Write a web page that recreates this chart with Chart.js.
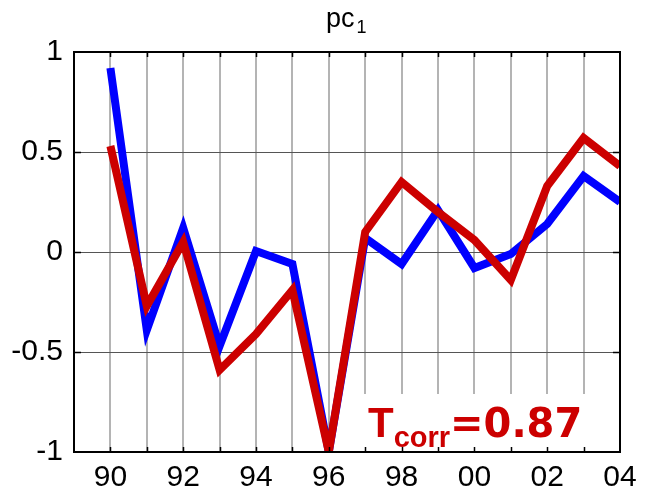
<!DOCTYPE html>
<html>
<head>
<meta charset="utf-8">
<title>pc1</title>
<script src="https://cdn.jsdelivr.net/npm/chart.js@4.4.1/dist/chart.umd.min.js"></script>
<style>
  html, body { margin: 0; padding: 0; background: #fff; }
  #wrap { width: 645px; height: 499px; }
</style>
</head>
<body>
<div id="wrap"><canvas id="c" width="645" height="499"></canvas></div>
<script>
// Years on the horizontal axis
const years = [1990, 1991, 1992, 1993, 1994, 1995, 1996, 1997, 1998, 1999, 2000, 2001, 2002, 2003, 2004];
// Principal component 1 (blue) and its reconstruction (red)
const bluePc = [0.92, -0.39, 0.12, -0.47, 0.005, -0.06, -1.0, 0.07, -0.06, 0.21, -0.08, -0.01, 0.14, 0.38, 0.25];
const redPc = [0.53, -0.27, 0.05, -0.59, -0.41, -0.19, -1.0, 0.10, 0.35, 0.20, 0.06, -0.14, 0.33, 0.57, 0.43];
const yTickValues = [-1, -0.5, 0, 0.5, 1];
const corrValue = '0.87';

const toPoints = arr => arr.map((v, i) => ({ x: years[i], y: v }));
const FONT = '"Liberation Sans", Arial, sans-serif';
const WIDE_BOLD = '"DejaVu Sans", sans-serif';

// Frame, inner tick marks, title and correlation label
const decorations = {
  id: 'decorations',
  beforeDatasetsDraw(chart) {
    const { ctx, scales: { x, y } } = chart;
    // white panel behind the correlation label
    ctx.save();
    ctx.fillStyle = '#ffffff';
    const x0 = x.getPixelForValue(1996.5), x1 = x.getPixelForValue(2003.4);
    const y0 = y.getPixelForValue(-0.71), y1 = y.getPixelForValue(-1);
    ctx.fillRect(x0, y0, x1 - x0, y1 - y0);
    ctx.restore();
  },
  afterDraw(chart) {
    const { ctx, chartArea: a, scales: { x, y } } = chart;
    ctx.save();
    // inner tick marks
    ctx.strokeStyle = '#000';
    ctx.lineWidth = 1.5;
    ctx.beginPath();
    for (let yr = 1990; yr < 2004; yr++) {
      const px = Math.round(x.getPixelForValue(yr)) + 0.5;
      ctx.moveTo(px, a.top); ctx.lineTo(px, a.top + 5);
      ctx.moveTo(px, a.bottom); ctx.lineTo(px, a.bottom - 5);
    }
    [-0.5, 0, 0.5].forEach(v => {
      const py = Math.round(y.getPixelForValue(v)) + 0.5;
      ctx.moveTo(a.right, py); ctx.lineTo(a.right - 7, py);
      ctx.moveTo(a.left, py); ctx.lineTo(a.left + 7, py);
    });
    ctx.stroke();
    // frame
    ctx.lineWidth = 2;
    ctx.strokeRect(a.left, a.top, a.right - a.left, a.bottom - a.top);

    // title pc with subscript 1
    ctx.fillStyle = '#000';
    ctx.textBaseline = 'alphabetic';
    ctx.textAlign = 'left';
    ctx.font = '27px ' + FONT;
    const tx = 326;
    ctx.fillText('pc', tx, 27);
    const w = ctx.measureText('pc').width;
    ctx.font = '18px ' + FONT;
    ctx.fillText('1', tx + w + 2, 33);

    // correlation label
    ctx.fillStyle = '#cc0000';
    ctx.font = 'bold 42px ' + FONT;
    let cx = 368;
    ctx.fillText('T', cx, 437);
    cx += ctx.measureText('T').width;
    ctx.font = 'bold 29px ' + FONT;
    ctx.fillText('corr', cx, 447);
    cx += ctx.measureText('corr').width;
    ctx.font = 'bold 40px ' + WIDE_BOLD;
    ctx.fillText('=' + corrValue, cx, 437);
    ctx.restore();
  }
};

new Chart(document.getElementById('c'), {
  type: 'line',
  data: {
    datasets: [
      { label: 'pc1', data: toPoints(redPc), borderColor: '#cc0000', borderWidth: 8, order: 0 },
      { label: 'pc1 obs', data: toPoints(bluePc), borderColor: '#0000ff', borderWidth: 8, order: 1 }
    ]
  },
  options: {
    responsive: false,
    animation: false,
    events: [],
    layout: { padding: { top: 52, right: 25, left: 0, bottom: 0 } },
    elements: {
      line: { tension: 0, borderJoinStyle: 'miter', borderCapStyle: 'butt', fill: false },
      point: { radius: 0 }
    },
    plugins: { legend: { display: false }, tooltip: { enabled: false }, title: { display: false } },
    scales: {
      x: {
        type: 'linear',
        min: 1989,
        max: 2004,
        afterFit: s => { s.height = 47; },
        afterBuildTicks: s => { s.ticks = [1989].concat(years).map(v => ({ value: v })); },
        border: { display: false },
        grid: { color: '#b4b4b4', lineWidth: 2, drawTicks: false },
        ticks: {
          autoSkip: false,
          maxRotation: 0,
          padding: 8,
          color: '#000',
          font: { family: FONT, size: 30 },
          callback: v => (v % 2 === 0 ? String(v % 100).padStart(2, '0') : '')
        }
      },
      y: {
        min: -1,
        max: 1,
        afterFit: s => { s.width = 74; },
        afterBuildTicks: s => { s.ticks = yTickValues.map(v => ({ value: v })); },
        border: { display: false },
        grid: { color: '#555555', lineWidth: 1, drawTicks: false },
        ticks: {
          padding: 11,
          color: '#000',
          font: { family: FONT, size: 30 },
          callback: v => String(v)
        }
      }
    }
  },
  plugins: [decorations]
});
</script>
</body>
</html>
